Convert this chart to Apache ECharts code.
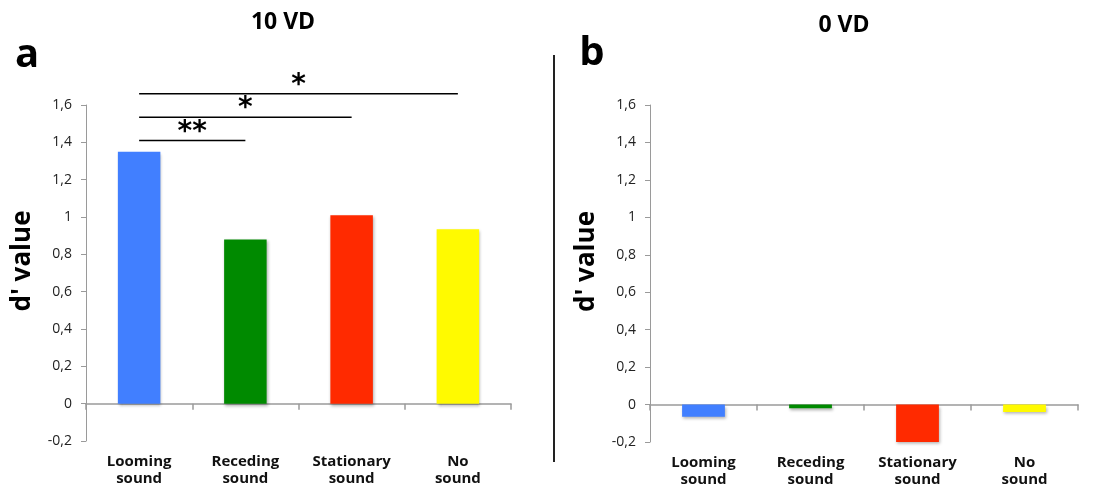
<!DOCTYPE html>
<html>
<head>
<meta charset="utf-8">
<script src="https://cdn.jsdelivr.net/npm/echarts@6/dist/echarts.min.js"></script>
<style>
  html, body { margin: 0; padding: 0; background: #fff; }
  #main { width: 1098px; height: 488px; }
</style>
</head>
<body>
<div id="main"></div>
<script>
const categories = ["Looming\nsound", "Receding\nsound", "Stationary\nsound", "No\nsound"];
const barColors = ["#417fff", "#008a00", "#ff2a00", "#fffa00"];
// d' values
const values10VD = [1.35, 0.88, 1.01, 0.935];
const values0VD = [-0.065, -0.02, -0.205, -0.04];
// significance brackets: [from index, to index, stars, bracket level]
const sigPairs = [
  [0, 1, "**", 1.41],
  [0, 2, "*", 1.535],
  [0, 3, "*", 1.66],
];
const yMin = -0.2, yMax = 1.6, yStep = 0.2;

const FONT = "Open Sans";
const myChart = echarts.init(document.getElementById("main"));

function tickFmt(v) {
  return String(Math.round(v * 10) / 10).replace(".", ",");
}

function makeY(gridIndex) {
  return {
    type: "value",
    gridIndex: gridIndex,
    min: yMin,
    max: yMax,
    interval: yStep,
    name: "d' value",
    nameLocation: "middle",
    nameRotate: 90,
    nameGap: 50,
    nameTextStyle: {
      fontFamily: FONT,
      fontWeight: "bold",
      fontSize: 26,
      color: "#000",
      padding: [0, 0, 0, 24],
    },
    axisLine: { show: true, lineStyle: { color: "#9a9a9a", width: 1 } },
    axisTick: { show: true, length: 5, lineStyle: { color: "#9a9a9a" } },
    axisLabel: {
      margin: 14,
      fontFamily: FONT,
      fontSize: 14,
      color: "#222",
      formatter: tickFmt,
    },
    splitLine: { show: false },
  };
}

function makeX(gridIndex) {
  return [
    {
      // zero line with ticks
      type: "category",
      gridIndex: gridIndex,
      data: categories,
      axisLine: { onZero: true, lineStyle: { color: "#9a9a9a", width: 1.5 } },
      axisTick: { show: true, length: 6, lineStyle: { color: "#9a9a9a", width: 1.5 } },
      axisLabel: { show: false },
    },
    {
      // labels at the bottom
      type: "category",
      gridIndex: gridIndex,
      data: categories,
      position: "bottom",
      axisLine: { show: false, onZero: false },
      axisTick: { show: false },
      axisLabel: {
        margin: 12,
        fontFamily: FONT,
        fontWeight: "bold",
        fontSize: 15,
        lineHeight: 17,
        color: "#111",
        interval: 0,
      },
    },
  ];
}

function makeSeries(values, xIdx, yIdx) {
  return {
    type: "bar",
    xAxisIndex: xIdx,
    yAxisIndex: yIdx,
    barWidth: "40%",
    clip: true,
    data: values.map((v, i) => ({
      value: v,
      itemStyle: {
        color: barColors[i],
        shadowColor: "rgba(0,0,0,0.3)",
        shadowBlur: 3,
        shadowOffsetX: 1,
        shadowOffsetY: 2,
      },
    })),
  };
}

const option = {
  animation: false,
  backgroundColor: "#fff",
  grid: [
    { left: 86, top: 105, right: 587, bottom: 47 },
    { left: 650, top: 105, right: 20, bottom: 46 },
  ],
  xAxis: makeX(0).concat(makeX(1)),
  yAxis: [makeY(0), makeY(1)],
  series: [makeSeries(values10VD, 0, 0), makeSeries(values0VD, 2, 1)],
};
myChart.setOption(option);

// panel titles, letters, divider and significance brackets
const textStyleBase = { fontFamily: FONT, fontWeight: "bold", fill: "#000" };
const graphics = [
  { type: "text", x: 283, y: 22, style: Object.assign({ text: "10 VD", fontSize: 23, align: "center", verticalAlign: "middle" }, textStyleBase) },
  { type: "text", x: 844, y: 25, style: Object.assign({ text: "0 VD", fontSize: 23, align: "center", verticalAlign: "middle" }, textStyleBase) },
  { type: "text", x: 27, y: 56, style: Object.assign({ text: "a", fontSize: 40, align: "center", verticalAlign: "middle" }, textStyleBase) },
  { type: "text", x: 592, y: 54, style: Object.assign({ text: "b", fontSize: 40, align: "center", verticalAlign: "middle" }, textStyleBase) },
  { type: "line", shape: { x1: 554, y1: 55, x2: 554, y2: 462 }, style: { stroke: "#222", lineWidth: 2 } },
];
sigPairs.forEach(([a, b, stars, level]) => {
  const p1 = myChart.convertToPixel({ seriesIndex: 0 }, [a, level]);
  const p2 = myChart.convertToPixel({ seriesIndex: 0 }, [b, level]);
  graphics.push({
    type: "line",
    shape: { x1: p1[0], y1: p1[1], x2: p2[0], y2: p2[1] },
    style: { stroke: "#000", lineWidth: 1.5 },
  });
  graphics.push({
    type: "text",
    x: (p1[0] + p2[0]) / 2,
    y: p1[1] - 8,
    style: { text: stars, fontFamily: "DejaVu Sans", fontWeight: "bold", fontSize: 28, fill: "#000", align: "center", verticalAlign: "middle" },
  });
});
myChart.setOption({ graphic: graphics });
</script>
</body>
</html>
